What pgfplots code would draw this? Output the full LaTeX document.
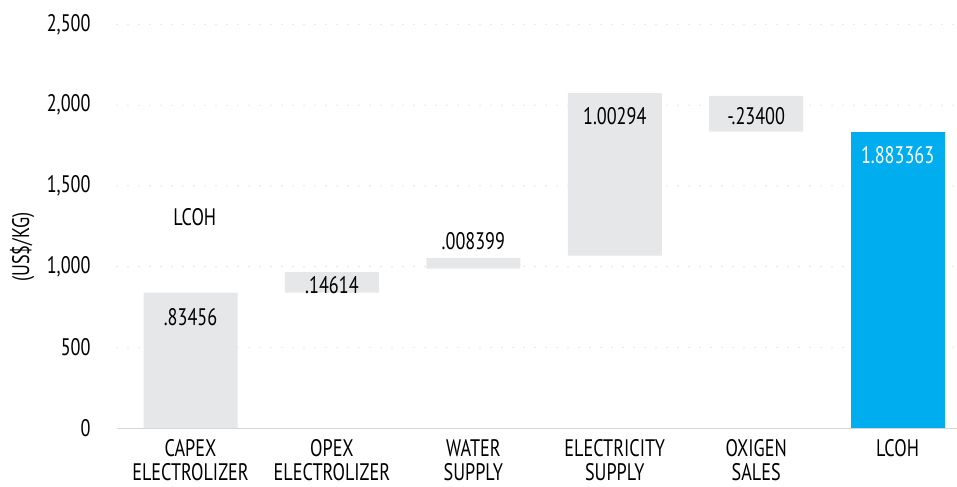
\documentclass[border=0pt]{standalone}
\usepackage{fontspec}
\setmainfont{PT Sans}[FakeStretch=0.76]
\usepackage{pgfplots}
\pgfplotsset{compat=1.18}
\definecolor{barg}{HTML}{E6E7E8}
\definecolor{barb}{HTML}{00AEEF}
\definecolor{gridc}{HTML}{D6D6D6}
\newcommand{\lf}{\fontsize{24}{25}\selectfont}
\begin{document}
\begin{tikzpicture}
\begin{axis}[name=ax, scale only axis, width=840bp, height=403.5bp,
  xmin=-0.52, xmax=5.42, ymin=0, ymax=2500,
  ybar stacked, bar width=94bp,
  axis line style={draw=none},
  major tick length=0pt, tick style={draw=none},
  ytick={500,1000,1500,2000,2500},
  extra y ticks={0},
  extra y tick style={grid style={solid, gridc, line width=1pt, line cap=butt}},
  ymajorgrids,
  grid style={gridc, line width=1.4pt, dash pattern=on 0pt off 11bp, line cap=round},
  /pgf/number format/assume math mode=true,
  /pgf/number format/1000 sep={,},
  yticklabel style={font=\lf, xshift=-23bp},
  xtick={0,1,2,3,4,5},
  xticklabels={{CAPEX\\ELECTROLIZER},{OPEX\\ELECTROLIZER},{WATER\\SUPPLY},{ELECTRICITY\\SUPPLY},{OXIGEN\\SALES},{LCOH}},
  xticklabel style={align=center, font=\fontsize{24}{24}\selectfont, anchor=north, yshift=-8bp},
  ylabel={(US\$/KG)},
  ylabel style={font=\lf, at={(axis description cs:-0.113,0.448)}, anchor=center},
]
\addplot[draw=none, fill=none] coordinates {(0,0) (1,838) (2,987) (3,1067.5) (4,1836) (5,0)};
\addplot[draw=none, fill=barg] coordinates {(0,838) (1,128.5) (2,66) (3,1008) (4,221) (5,0)};
\addplot[draw=none, fill=barb] coordinates {(0,0) (1,0) (2,0) (3,0) (4,0) (5,1836)};
\coordinate (l0) at (axis cs:0,688);
\coordinate (l1) at (axis cs:1,888);
\coordinate (l2) at (axis cs:2,1159);
\coordinate (l3) at (axis cs:3,1935);
\coordinate (l4) at (axis cs:4,1932);
\coordinate (l5) at (axis cs:5,1691);
\coordinate (l6) at (axis cs:0.03,1307);
\end{axis}
\node[font=\lf] at (l0) {.83456};
\node[font=\lf] at (l1) {.14614};
\node[font=\lf] at (l2) {.008399};
\node[font=\lf] at (l3) {1.00294};
\node[font=\lf] at (l4) {-.23400};
\node[font=\lf, white] at (l5) {1.883363};
\node[font=\lf] at (l6) {LCOH};
\pgfresetboundingbox
\path[use as bounding box] ([xshift=-117bp,yshift=-59bp]ax.south west) rectangle ([yshift=24.5bp]ax.north east);
\end{tikzpicture}
\end{document}
